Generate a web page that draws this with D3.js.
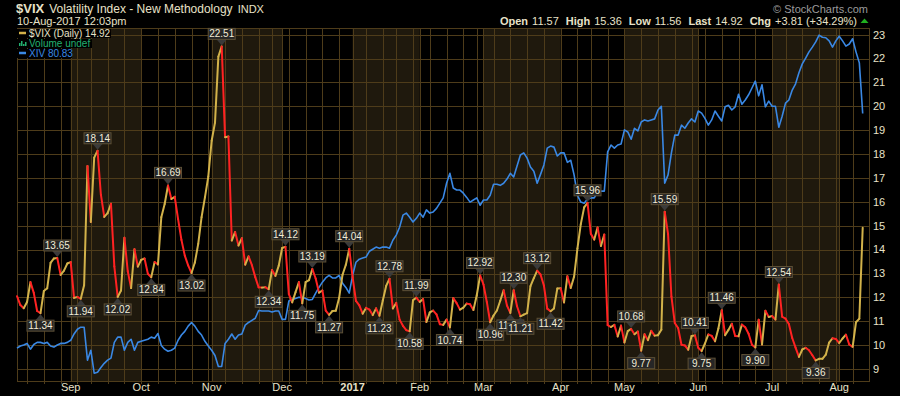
<!DOCTYPE html>
<html>
<head>
<meta charset="utf-8">
<script src="https://cdn.jsdelivr.net/npm/d3@7"></script>
<style>
  html, body { margin: 0; background: #000; }
  svg { display: block; }
  text { font-family: Arial, "Liberation Sans", sans-serif; }
</style>
</head>
<body>
<svg id="chart" width="900" height="396"></svg>
<script>
// market holidays inside the window (weekdays with no session)
const holidays = ['2016-09-05', '2016-11-24', '2016-12-26', '2017-01-02', '2017-01-16',
  '2017-02-20', '2017-04-14', '2017-05-29', '2017-07-04'];

// $VIX daily closes, one array per month
const vixAug16 = [12.05, 11.68, 11.55, 11.81, 12.64, 12.19, 11.43, 11.34, 12.27, 12.38, 13.45, 13.63, 13.65, 12.94, 13.12, 13.42];
const vixSep16 = [13.48, 11.98, 12.02, 11.94, 12.51, 17.50, 15.16, 17.85, 18.14, 16.30, 15.37, 15.53, 15.92, 13.30, 12.02, 12.29, 14.50, 13.10, 12.39, 14.02, 13.29];
const vixOct16 = [13.57, 13.63, 12.99, 12.84, 13.48, 13.38, 15.36, 15.91, 16.69, 16.12, 16.21, 15.28, 14.41, 13.75, 13.34, 13.02, 13.46, 14.24, 15.36, 16.19, 17.06];
const vixNov16 = [18.56, 19.32, 22.08, 22.51, 18.71, 18.74, 14.38, 14.74, 14.17, 14.48, 13.37, 13.72, 13.35, 12.85, 12.42, 12.41, 12.43, 12.34, 13.15, 12.90, 13.33];
const vixDec16 = [14.07, 14.12, 12.14, 11.79, 12.22, 12.64, 11.75, 12.64, 12.72, 13.19, 12.79, 12.20, 12.29, 11.45, 11.27, 11.43, 11.44, 11.99, 12.95, 13.37, 14.04];
const vixJan17 = [12.85, 11.85, 11.67, 11.32, 11.56, 11.49, 11.26, 11.54, 11.23, 11.87, 12.48, 12.78, 11.54, 11.77, 11.07, 10.81, 10.63, 10.58, 11.88, 11.99];
const vixFeb17 = [11.81, 11.93, 10.97, 11.37, 11.45, 11.29, 10.88, 10.85, 11.07, 10.74, 11.97, 11.76, 11.49, 11.57, 11.74, 11.71, 11.47, 12.09, 12.92];
const vixMar17 = [12.54, 11.81, 10.96, 11.24, 11.45, 11.86, 12.30, 11.66, 11.35, 12.30, 11.63, 11.21, 11.28, 11.34, 12.47, 12.81, 13.12, 12.96, 12.50, 11.53, 11.42, 11.54, 12.37];
const vixApr17 = [12.38, 11.79, 12.89, 12.39, 12.87, 14.05, 15.07, 15.77, 15.96, 14.66, 14.42, 14.93, 14.15, 14.63, 10.84, 10.76, 10.85, 10.36, 10.82];
const vixMay17 = [10.11, 10.59, 10.68, 10.46, 10.57, 9.77, 10.46, 10.21, 10.60, 10.40, 10.42, 10.65, 15.59, 14.66, 12.04, 10.93, 10.72, 10.02, 9.99, 9.81, 10.38, 10.41];
const vixJun17 = [9.89, 9.75, 10.07, 10.45, 10.39, 10.16, 10.70, 11.46, 10.42, 10.64, 10.90, 10.38, 10.37, 10.86, 10.75, 10.48, 10.02, 9.90, 11.06, 10.03, 11.44, 11.18];
const vixJul17 = [11.22, 11.07, 12.54, 11.19, 11.11, 10.89, 10.30, 9.90, 9.51, 9.82, 9.89, 9.79, 9.58, 9.36, 9.43, 9.43, 9.60, 10.11, 10.29, 10.26];
const vixAug17 = [10.09, 10.28, 10.44, 10.03, 9.93, 10.96, 11.11, 14.92];

// XIV overlay (own hidden scale)
const xivAug16 = [36.0, 36.4, 36.6, 36.9, 35.8, 36.7, 37.1, 37.1, 36.9, 37.1, 36.4, 36.2, 36.6, 36.9, 36.9, 37.1];
const xivSep16 = [37.5, 38.7, 39.6, 40.0, 40.0, 33.7, 35.6, 31.2, 31.4, 32.3, 33.1, 33.7, 34.1, 37.1, 38.1, 38.1, 35.6, 37.1, 37.7, 35.6, 37.1];
const xivOct16 = [37.3, 37.5, 37.7, 38.1, 37.9, 38.8, 36.5, 35.8, 35.4, 35.6, 36.0, 37.5, 38.5, 39.2, 40.2, 40.9, 40.2, 39.2, 38.5, 37.3, 36.4];
const xivNov16 = [35.6, 34.6, 32.5, 32.5, 36.9, 37.7, 38.7, 37.7, 38.5, 38.7, 40.4, 40.9, 41.3, 41.7, 43.2, 43.1, 43.1, 43.1, 42.9, 43.1, 43.1];
const xivDec16 = [41.5, 41.5, 45.0, 45.3, 45.5, 45.7, 45.7, 45.5, 45.2, 45.3, 46.5, 47.6, 48.6, 49.4, 49.9, 49.4, 49.4, 49.9, 48.4, 47.6, 46.5];
const xivJan17 = [49.9, 52.4, 53.0, 53.2, 53.4, 54.5, 54.9, 55.3, 55.1, 55.3, 55.3, 55.1, 56.6, 57.6, 59.1, 61.4, 61.8, 61.0, 60.1, 60.8];
const xivFeb17 = [61.8, 61.0, 62.4, 61.8, 62.0, 62.7, 63.7, 64.7, 67.5, 69.4, 66.6, 66.2, 66.2, 65.6, 64.8, 63.9, 64.3, 64.7, 63.3];
const xivMar17 = [64.3, 64.3, 65.2, 67.3, 67.3, 67.1, 67.5, 68.3, 69.4, 68.7, 70.8, 72.9, 73.3, 72.3, 70.6, 69.8, 67.5, 69.2, 71.0, 74.2, 74.6, 74.4, 72.7];
const xivApr17 = [73.3, 73.3, 71.5, 71.9, 69.1, 65.2, 63.9, 63.7, 64.5, 64.7, 64.7, 65.8, 66.0, 66.0, 73.5, 74.8, 74.2, 74.8, 75.0];
const xivMay17 = [77.7, 77.3, 75.9, 78.0, 77.5, 79.2, 79.6, 79.4, 79.6, 79.8, 81.5, 82.2, 67.5, 69.1, 73.3, 76.7, 76.7, 78.6, 78.0, 79.0, 79.8, 79.2];
const xivJun17 = [81.3, 80.9, 79.9, 78.6, 79.6, 81.3, 80.3, 79.4, 82.1, 82.4, 81.5, 82.1, 84.5, 82.6, 83.4, 84.4, 85.7, 87.0, 84.2, 86.3, 82.1, 83.2];
const xivJul17 = [82.2, 82.2, 78.2, 80.3, 82.8, 83.4, 85.3, 86.5, 88.6, 90.3, 91.4, 92.6, 93.5, 94.5, 95.8, 95.4, 95.3, 94.7, 93.5, 94.7];
const xivAug17 = [95.6, 94.7, 93.7, 94.1, 95.1, 92.6, 90.5, 80.83];

// annotated swing points
const highDates = ['2016-08-26', '2016-09-14', '2016-10-13', '2016-11-04', '2016-12-02', '2016-12-14',
  '2016-12-30', '2017-01-19', '2017-01-31', '2017-02-28', '2017-03-14', '2017-03-23', '2017-04-13',
  '2017-05-03', '2017-05-17', '2017-05-31', '2017-06-12', '2017-07-06'];
const lowDates = ['2016-08-19', '2016-09-07', '2016-09-22', '2016-10-06', '2016-10-24', '2016-11-25',
  '2016-12-09', '2016-12-21', '2017-01-13', '2017-01-27', '2017-02-14', '2017-03-03', '2017-03-13',
  '2017-03-16', '2017-03-29', '2017-05-08', '2017-06-02', '2017-06-26', '2017-07-21'];

const yTicks = d3.range(9, 24);
const shadedMonths = [8, 10, 0, 2, 4, 6]; // Sep, Nov, Jan, Mar, May, Jul (0-based)

const quoteParts = [['Open', '11.57'], ['High', '15.36'], ['Low', '11.56'], ['Last', '14.92'], ['Chg', '+3.81 (+34.29%)']];

const colors = {
  up: '#d2b24a',
  down: '#ff2222',
  xiv: '#3a88e4',
  volume: '#22b070',
  grid: '#4e3c1a',
  shade: '#1f190d',
  text: '#e8e2c8'
};

const vix = [].concat(vixAug16, vixSep16, vixOct16, vixNov16, vixDec16, vixJan17, vixFeb17,
  vixMar17, vixApr17, vixMay17, vixJun17, vixJul17, vixAug17);
const xiv = [].concat(xivAug16, xivSep16, xivOct16, xivNov16, xivDec16, xivJan17, xivFeb17,
  xivMar17, xivApr17, xivMay17, xivJun17, xivJul17, xivAug17);

const fmt = d3.timeFormat('%Y-%m-%d');
const days = d3.timeDay.range(new Date(2016, 7, 10), new Date(2017, 7, 11))
  .filter((d) => d.getDay() > 0 && d.getDay() < 6 && !holidays.includes(fmt(d)));
if (days.length !== vix.length) console.error('date count', days.length, vix.length);

const data = days.map((d, i) => ({ key: fmt(d), date: d, vix: vix[i], xiv: xiv[i] }));
const byKey = new Map(data.map((d) => [d.key, d]));

const plot = { left: 17, right: 869, top: 28, bottom: 381 };
const lastX = 862.7;

const svg = d3.select('#chart');

const x = d3.scalePoint().domain(data.map((d) => d.key)).range([plot.left, lastX]);
const y = d3.scaleLinear().domain([8.5, 23.28]).range([plot.bottom, plot.top]);
const yXiv = d3.scaleLinear().domain([29.72, 97.16]).range([plot.bottom, plot.top]);

// month starts and week starts
const monthStarts = data.filter((d, i) => i > 0 && d.date.getMonth() !== data[i - 1].date.getMonth());
const weekStarts = data.filter((d, i) => i > 0 && d.date.getDay() < data[i - 1].date.getDay());

// shaded months
const bands = monthStarts
  .filter((d) => shadedMonths.includes(d.date.getMonth()))
  .map((d) => {
    const next = monthStarts.find((m) => m.date > d.date);
    return { x0: x(d.key), x1: next ? x(next.key) : plot.right };
  });

svg.append('g').selectAll('rect').data(bands).join('rect')
  .attr('x', (d) => d.x0).attr('y', plot.top)
  .attr('width', (d) => d.x1 - d.x0).attr('height', plot.bottom - plot.top)
  .attr('fill', colors.shade);

// grid
const grid = svg.append('g').attr('stroke', colors.grid).attr('stroke-width', 1).attr('shape-rendering', 'crispEdges');
grid.selectAll('line.h').data(yTicks).join('line').attr('class', 'h')
  .attr('x1', plot.left).attr('x2', plot.right)
  .attr('y1', (d) => Math.round(y(d)) + 0.5).attr('y2', (d) => Math.round(y(d)) + 0.5);
const vLines = Array.from(new Set([...weekStarts, ...monthStarts].map((d) => d.key)));
grid.selectAll('line.v').data(vLines).join('line').attr('class', 'v')
  .attr('x1', (d) => Math.round(x(d)) + 0.5).attr('x2', (d) => Math.round(x(d)) + 0.5)
  .attr('y1', plot.top).attr('y2', plot.bottom);
grid.append('rect')
  .attr('x', plot.left + 0.5).attr('y', plot.top + 0.5)
  .attr('width', plot.right - plot.left).attr('height', plot.bottom - plot.top)
  .attr('fill', 'none');

// bottom ticks
svg.append('g').selectAll('line').data(weekStarts).join('line')
  .attr('x1', (d) => Math.round(x(d.key)) + 0.5).attr('x2', (d) => Math.round(x(d.key)) + 0.5)
  .attr('y1', plot.bottom).attr('y2', plot.bottom + 3)
  .attr('stroke', colors.grid);

// XIV line
svg.append('path').datum(data)
  .attr('fill', 'none').attr('stroke', colors.xiv).attr('stroke-width', 1.6)
  .attr('stroke-linejoin', 'round')
  .attr('d', d3.line().x((d) => x(d.key)).y((d) => yXiv(d.xiv)));

// VIX line, coloured by direction
const segs = data.slice(1).map((d, i) => ({ a: data[i], b: d }));
svg.append('g').selectAll('line').data(segs).join('line')
  .attr('x1', (d) => x(d.a.key)).attr('y1', (d) => y(d.a.vix))
  .attr('x2', (d) => x(d.b.key)).attr('y2', (d) => y(d.b.vix))
  .attr('stroke', (d) => (d.b.vix >= d.a.vix ? colors.up : colors.down))
  .attr('stroke-width', 2).attr('stroke-linecap', 'round');

// swing labels
const labels = [
  ...highDates.map((k) => ({ d: byKey.get(k), hi: true })),
  ...lowDates.map((k) => ({ d: byKey.get(k), hi: false }))
];
const lg = svg.append('g').selectAll('g').data(labels).join('g')
  .attr('transform', (l) => `translate(${x(l.d.key)},${y(l.d.vix)})`);
lg.append('path')
  .attr('d', (l) => (l.hi ? 'M0,-1 L-5,-7 L5,-7 Z' : 'M0,1 L-5,7 L5,7 Z'))
  .attr('fill', '#3a3a3a');
lg.append('rect')
  .attr('x', -13.5).attr('width', 27).attr('height', 11)
  .attr('y', (l) => (l.hi ? -18 : 7))
  .attr('fill', '#262626').attr('stroke', '#5d5036').attr('stroke-width', 1);
lg.append('text')
  .attr('text-anchor', 'middle').attr('font-size', 10).attr('fill', '#f2ecd6')
  .attr('y', (l) => (l.hi ? -9 : 16))
  .text((l) => l.d.vix.toFixed(2));

// right axis
const ax = svg.append('g');
ax.append('line').attr('x1', plot.right + 0.5).attr('x2', plot.right + 0.5)
  .attr('y1', plot.top).attr('y2', plot.bottom).attr('stroke', colors.grid);
ax.selectAll('text').data(yTicks).join('text')
  .attr('x', plot.right + 4).attr('y', (d) => y(d)).attr('dy', '0.35em')
  .attr('font-size', 11).attr('fill', colors.text)
  .text((d) => d);

// month labels
svg.append('g').selectAll('text').data(monthStarts).join('text')
  .attr('x', (d) => x(d.key)).attr('y', 391)
  .attr('text-anchor', 'middle').attr('font-size', 11).attr('fill', colors.text)
  .attr('font-weight', (d) => (d.date.getMonth() === 0 ? 'bold' : 'normal'))
  .text((d) => (d.date.getMonth() === 0 ? d.date.getFullYear() : d3.timeFormat('%b')(d.date)));

// header
const head = svg.append('text').attr('x', 16).attr('y', 13).attr('fill', colors.text);
head.append('tspan').attr('font-weight', 'bold').attr('font-size', 13).text('$VIX');
head.append('tspan').attr('font-size', 12).attr('dx', 5).text('Volatility Index - New Methodology');
head.append('tspan').attr('font-size', 11).attr('dx', 5).text('INDX');
svg.append('text').attr('x', 17).attr('y', 25).attr('font-size', 11).attr('fill', colors.text)
  .text('10-Aug-2017 12:03pm');
svg.append('text').attr('x', 868).attr('y', 13).attr('text-anchor', 'end')
  .attr('font-size', 11).attr('fill', '#9b9b9b').text('\u00a9 StockCharts.com');

const quote = svg.append('text').attr('x', 857).attr('y', 25).attr('text-anchor', 'end')
  .attr('font-size', 11).attr('fill', colors.text);
quoteParts.forEach(([k, v], i) => {
  quote.append('tspan').attr('font-weight', 'bold').attr('dx', i ? 7 : 0).text(k);
  quote.append('tspan').attr('dx', 4).text(v);
});
svg.append('path').attr('d', 'M860.5,23 L864.5,18.5 L868.5,23 Z').attr('fill', '#20b020');

// legend
const legend = svg.append('g');
legend.append('rect').attr('x', 17).attr('y', 29).attr('width', 94).attr('height', 9).attr('fill', '#000');
legend.append('rect').attr('x', 17).attr('y', 39).attr('width', 75).attr('height', 9).attr('fill', '#000');
legend.append('rect').attr('x', 17).attr('y', 49).attr('width', 55).attr('height', 9).attr('fill', '#000');
legend.append('line').attr('x1', 19).attr('x2', 26).attr('y1', 33).attr('y2', 33)
  .attr('stroke', colors.up).attr('stroke-width', 2.5);
legend.append('text').attr('x', 29).attr('y', 37).attr('font-size', 10).attr('fill', colors.text)
  .text('$VIX (Daily) 14.92');
legend.selectAll('rect.vol').data([3, 5, 2, 4]).join('rect').attr('class', 'vol')
  .attr('x', (d, i) => 19 + i * 2).attr('y', (d) => 46 - d).attr('width', 1.5).attr('height', (d) => d)
  .attr('fill', colors.volume);
legend.append('text').attr('x', 29).attr('y', 47).attr('font-size', 10).attr('fill', colors.volume)
  .text('Volume undef');
legend.append('line').attr('x1', 19).attr('x2', 26).attr('y1', 53).attr('y2', 53)
  .attr('stroke', colors.xiv).attr('stroke-width', 2.5);
legend.append('text').attr('x', 29).attr('y', 57).attr('font-size', 10).attr('fill', colors.xiv)
  .text('XIV 80.83');
</script>
</body>
</html>
